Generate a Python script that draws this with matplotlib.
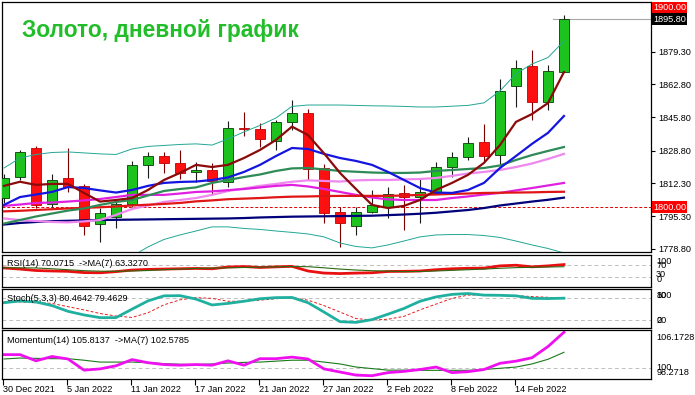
import matplotlib
matplotlib.use("Agg")
import matplotlib.pyplot as plt
import numpy as np

plt.rcParams['font.family'] = ['Liberation Sans', 'DejaVu Sans']

# ---------------- data ----------------
date_labels = ["30 Dec 2021", "5 Jan 2022", "11 Jan 2022", "17 Jan 2022", "21 Jan 2022",
               "27 Jan 2022", "2 Feb 2022", "8 Feb 2022", "14 Feb 2022"]
label_step = 4

open_ = [1804.7, 1815.3, 1830.1, 1801.7, 1814.8, 1810.9, 1791.3, 1795.2, 1801.7, 1821.6,
         1826.1, 1822.4, 1817.8, 1819.0, 1813.0, 1840.4, 1839.7, 1833.8, 1843.3, 1847.9,
         1819.9, 1797.5, 1790.6, 1797.8, 1800.3, 1807.1, 1805.1, 1807.1, 1820.4, 1825.5,
         1833.1, 1826.7, 1862.0, 1872.0, 1853.5, 1869.1]
close = [1814.9, 1828.3, 1801.2, 1813.9, 1810.2, 1790.6, 1796.9, 1801.5, 1821.6, 1826.1,
         1822.4, 1817.6, 1819.0, 1813.6, 1840.3, 1840.0, 1834.7, 1843.3, 1847.9, 1819.4,
         1796.9, 1791.8, 1797.5, 1801.2, 1806.6, 1805.1, 1807.6, 1820.4, 1825.8, 1832.6,
         1826.3, 1859.3, 1871.1, 1853.5, 1869.5, 1895.8]
high = [1817.0, 1829.2, 1831.4, 1817.0, 1830.4, 1811.7, 1799.5, 1802.9, 1823.6, 1828.3,
        1828.3, 1829.2, 1823.2, 1822.7, 1844.1, 1848.4, 1842.8, 1844.5, 1854.7, 1850.1,
        1822.1, 1800.3, 1800.0, 1808.8, 1810.5, 1811.4, 1814.8, 1823.2, 1828.3, 1836.0,
        1842.4, 1865.2, 1875.1, 1880.2, 1872.5, 1898.0]
low = [1802.0, 1813.9, 1799.5, 1800.0, 1807.9, 1785.9, 1782.5, 1789.6, 1800.3, 1815.1,
       1817.3, 1814.4, 1813.0, 1806.3, 1810.2, 1836.3, 1830.9, 1829.2, 1839.4, 1813.9,
       1791.8, 1779.6, 1785.9, 1796.9, 1794.4, 1788.4, 1792.2, 1806.8, 1815.3, 1824.1,
       1822.9, 1821.6, 1851.0, 1844.5, 1849.6, 1868.9]

ma_maroon = [1810.9, 1813.0, 1811.4, 1811.9, 1811.9, 1807.3, 1802.9, 1803.7, 1804.7, 1808.8,
             1813.9, 1817.5, 1821.6, 1820.5, 1821.6, 1825.1, 1829.2, 1834.3, 1841.1, 1836.8,
             1827.5, 1817.5, 1809.3, 1801.2, 1799.6, 1800.7, 1803.7, 1808.8, 1812.4, 1816.5,
             1822.6, 1831.7, 1843.5, 1847.5, 1853.1, 1868.9]
ma_blue = [1801.2, 1805.2, 1806.5, 1807.8, 1810.3, 1809.8, 1808.6, 1807.5, 1808.8, 1810.9,
           1812.4, 1812.9, 1813.1, 1813.9, 1815.2, 1818.0, 1821.6, 1826.1, 1830.2, 1829.7,
           1827.2, 1825.1, 1823.6, 1821.6, 1818.0, 1813.9, 1809.8, 1807.5, 1807.3, 1808.8,
           1812.4, 1820.0, 1826.1, 1832.3, 1837.9, 1846.5]
ma_green = [1791.7, 1793.5, 1795.3, 1796.8, 1798.3, 1799.4, 1801.2, 1802.7, 1803.7, 1806.0,
            1808.3, 1809.3, 1810.1, 1812.4, 1813.9, 1815.4, 1816.7, 1818.5, 1819.8, 1820.0,
            1819.3, 1818.5, 1818.1, 1817.7, 1817.5, 1817.5, 1817.7, 1818.5, 1819.0, 1819.5,
            1820.0, 1821.3, 1824.1, 1826.6, 1828.7, 1830.7]
ma_magenta = [1800.7, 1801.4, 1802.2, 1802.4, 1802.9, 1803.5, 1804.2, 1805.2, 1806.3, 1806.3,
              1806.3, 1807.0, 1807.8, 1808.1, 1808.7, 1809.3, 1810.1, 1810.9, 1811.4, 1810.6,
              1809.3, 1807.8, 1806.3, 1805.0, 1804.0, 1803.7, 1803.7, 1803.7, 1804.7, 1805.5,
              1806.5, 1807.3, 1808.6, 1809.8, 1811.1, 1812.4]
ma_violet = [1794.3, 1793.5, 1793.0, 1792.5, 1792.3, 1792.8, 1793.5, 1796.1, 1799.1, 1800.9,
             1802.7, 1803.7, 1804.7, 1806.3, 1808.3, 1809.6, 1810.9, 1811.9, 1813.0, 1813.7,
             1813.4, 1813.1, 1813.7, 1813.9, 1813.9, 1814.2, 1814.4, 1814.9, 1816.0, 1817.2,
             1818.0, 1819.0, 1820.5, 1822.3, 1824.6, 1827.2]
ma_red = [1797.9, 1798.2, 1798.6, 1799.0, 1799.4, 1799.7, 1800.0, 1800.4, 1800.9, 1801.3,
          1801.7, 1802.2, 1803.0, 1803.5, 1804.1, 1804.4, 1804.7, 1805.1, 1805.4, 1805.5,
          1805.7, 1805.8, 1805.8, 1805.8, 1805.8, 1806.0, 1806.3, 1806.5, 1806.8, 1807.0,
          1807.3, 1807.4, 1807.5, 1807.6, 1807.8, 1807.9]
ma_navy = [1791.2, 1792.0, 1792.5, 1792.9, 1793.1, 1793.3, 1793.5, 1793.6, 1793.7, 1793.8,
           1793.9, 1794.0, 1794.1, 1794.2, 1794.3, 1794.5, 1794.8, 1795.0, 1795.2, 1795.3,
           1795.4, 1795.5, 1795.6, 1795.7, 1796.0, 1796.3, 1796.7, 1797.2, 1797.9, 1798.6,
           1799.6, 1800.9, 1801.9, 1802.9, 1803.8, 1804.9]
bb_upper = [1820.0, 1825.1, 1826.9, 1827.9, 1828.2, 1827.7, 1827.2, 1826.9, 1829.7, 1831.0,
            1831.5, 1832.0, 1832.3, 1831.7, 1834.8, 1838.4, 1841.7, 1845.5, 1851.4, 1852.1,
            1852.1, 1852.1, 1851.9, 1851.7, 1851.6, 1851.4, 1851.1, 1851.1, 1851.5, 1851.9,
            1853.2, 1859.3, 1868.0, 1873.0, 1876.3, 1884.7]
bb_lower = [None] * 8 + [1775.0, 1779.8, 1783.6, 1785.9, 1787.9, 1790.0, 1790.0, 1789.2,
                         1788.7, 1787.9, 1787.2, 1786.4, 1784.9, 1781.8, 1780.0, 1779.3,
                         1780.8, 1782.8, 1784.9, 1785.9, 1786.1, 1786.1, 1785.6, 1784.6,
                         1782.8, 1780.8, 1779.0, 1776.7]

rsi = [59.5, 56, 51.5, 50, 49, 45, 44.5, 48, 53, 55, 56, 57, 58, 57, 62.5, 64, 61, 63, 64.5,
       50, 43.5, 42, 43.5, 44.5, 48.5, 49, 50, 54, 57, 58.5, 59, 66, 68, 63, 66, 70.0715]
rsi_ma = [60, 60, 59.5, 57, 54, 51, 49.5, 49, 50, 51.5, 54, 56, 58, 59, 60, 61, 62, 63, 64,
          63.5, 60, 56, 53, 51, 49.5, 48, 48.5, 50, 52, 54, 56, 58.5, 60.5, 61.5, 62.5, 63.3270]
stoch_k = [68, 72.8, 70, 60, 44, 34, 26.5, 26.5, 50, 73, 87, 87.5, 78, 61.7, 66, 72, 79, 82,
           82.5, 68, 42, 15.3, 13.3, 21, 36, 52, 72, 84, 91, 93.5, 89, 88.5, 87, 80, 79.5, 80.4642]
stoch_d = [71, 70, 68, 66, 57, 48, 38, 31, 27, 40, 62, 76, 82, 80, 72, 72, 75, 79, 82, 75,
           60, 42, 24, 20, 22, 30, 48, 64, 80, 89, 90, 89, 87.5, 85, 83, 79.4629]
momentum = [102.2, 102.2, 101.2, 101.9, 101.5, 99.7, 99.9, 100.4, 101.4, 100.9, 100.6, 100.5,
            100.6, 100.5, 101.2, 100.5, 101.55, 101.55, 101.8, 101.5, 99.9, 99.4, 98.9, 98.8,
            99.3, 99.5, 99.8, 100.2, 99.3, 99.45, 99.8, 100.8, 101.15, 101.7, 103.5, 105.8137]
momentum_ma = [101.5, 101.65, 101.6, 101.55, 101.55, 101.3, 101.0, 101.0, 101.0, 100.9, 100.75,
               100.65, 100.6, 100.7, 100.85, 100.95, 101.0, 101.15, 101.3, 101.3, 101.0, 100.7,
               100.2, 99.95, 99.7, 99.7, 99.67, 99.67, 99.67, 99.67, 99.8, 100.0, 100.2, 100.7,
               101.45, 102.5785]

price_ticks = [1778.80, 1795.30, 1812.30, 1828.80, 1845.80, 1862.80, 1879.30, 1895.80]
last_price = 1895.80
alert_level = 1900.00
support_level = 1800.00
mom_range = (98.2718, 106.1728)

# ---------------- layout ----------------
W, H = 695, 395
fig = plt.figure(figsize=(W / 100, H / 100), dpi=100)
fig.patch.set_facecolor('white')


def axes_px(left, top, right, bottom):
    return fig.add_axes([left / W, 1 - bottom / H, (right - left) / W, (bottom - top) / H])


ax = axes_px(2, 2, 651, 252)
ax_rsi = axes_px(2, 255, 651, 287)
ax_st = axes_px(2, 288.5, 651, 328)
ax_mom = axes_px(2, 330, 651, 379)

n = len(close)
x = np.arange(n)
xlim = (-0.125, 40.44)
for a in (ax, ax_rsi, ax_st, ax_mom):
    a.set_xlim(*xlim)
    for s in a.spines.values():
        s.set_linewidth(0.9)
        s.set_color('black')
    a.tick_params(axis='x', bottom=False, labelbottom=False)
    a.tick_params(axis='y', left=False, labelleft=False)

GREEN = '#1EC21E'
RED = '#FF1010'
FS = 6.6

# ---------------- main panel ----------------
ax.set_ylim(1777.2, 1904.6)
o = np.array(open_); c = np.array(close); h = np.array(high); l = np.array(low)
up = c >= o
ax.vlines(x[up], l[up], h[up], color='#1a1a1a', lw=0.8, zorder=2)
ax.vlines(x[~up], l[~up], h[~up], color='#7a0000', lw=0.8, zorder=2)
ax.bar(x[up], c[up] - o[up], bottom=o[up], width=0.66, color=GREEN,
       edgecolor='#0a3a0a', linewidth=0.6, zorder=3)
ax.bar(x[~up], c[~up] - o[~up], bottom=o[~up], width=0.66, color=RED,
       edgecolor='#c00000', linewidth=0.6, zorder=3)

lower = np.array([np.nan if v is None else v for v in bb_lower], dtype=float)
ax.plot(x, bb_upper, color='#22A696', lw=0.7, zorder=4)
ax.plot(x, lower, color='#22A696', lw=0.7, zorder=4)
ax.plot(x, ma_navy, color='#00007A', lw=1.6, zorder=5)
ax.plot(x, ma_violet, color='#EE88EE', lw=1.6, zorder=5)
ax.plot(x, ma_magenta, color='#E020E0', lw=1.6, zorder=5)
ax.plot(x, ma_red, color='#E01515', lw=1.6, zorder=5)
ax.plot(x, ma_green, color='#2E8B57', lw=1.6, zorder=5)
ax.plot(x, ma_blue, color='#1515E0', lw=1.6, zorder=6)
ax.plot(x, ma_maroon, color='#8B0A0A', lw=1.6, zorder=6)

ax.axhline(support_level, color='#E00000', lw=0.7, ls=(0, (3, 2)), zorder=1)
ax.plot([n - 1 - 0.7, xlim[1]], [last_price, last_price], color='#A8A8A8', lw=0.8, zorder=1)

ax.yaxis.tick_right()
ax.set_yticks(price_ticks)
ax.set_yticklabels(['' if abs(t - last_price) < 1e-6 else f'{t:.2f}' for t in price_ticks])
ax.tick_params(axis='y', right=True, labelright=True, length=3, width=0.8, pad=2,
               labelsize=FS, colors='black')

ytr = ax.get_yaxis_transform()
ax.text(1.003, alert_level + 1.8, f'{alert_level:.2f}', transform=ytr, fontsize=FS,
        color='white', va='center', ha='left', clip_on=False,
        bbox=dict(boxstyle='square,pad=0.15', fc='#FF0000', ec='none'))
ax.text(1.003, last_price, f'{last_price:.2f}', transform=ytr, fontsize=FS,
        color='white', va='center', ha='left', clip_on=False,
        bbox=dict(boxstyle='square,pad=0.15', fc='black', ec='none'))
ax.text(1.003, support_level, f'{support_level:.2f}', transform=ytr, fontsize=FS,
        color='white', va='center', ha='left', clip_on=False,
        bbox=dict(boxstyle='square,pad=0.15', fc='#FF0000', ec='none'))

fig.text(22 / W, 1 - 31 / H, 'Золото, дневной график', color='#22BE2A', fontsize=16.4,
         fontweight='bold', va='center', ha='left')


def level_labels(a, items):
    tr = a.get_yaxis_transform()
    for txt, yv in items:
        a.text(1.008, yv, txt, transform=tr, fontsize=FS, va='center', ha='left',
               clip_on=False)


# ---------------- RSI ----------------
ax_rsi.set_ylim(0, 100)
for lv in (70, 30):
    ax_rsi.axhline(lv, color='#C0C0C0', lw=0.7, ls=(0, (4, 3)))
ax_rsi.plot(x, rsi, color='#E81010', lw=2.0)
ax_rsi.plot(x, rsi_ma, color='#2A6A10', lw=0.8)
ax_rsi.text(0.0077, 0.73, f'RSI(14) {rsi[-1]:.4f}  ->MA(7) {rsi_ma[-1]:.4f}',
            transform=ax_rsi.transAxes, fontsize=FS, va='center', ha='left')
level_labels(ax_rsi, [('100', 81), ('70', 66), ('30', 40), ('0', 22)])

# ---------------- Stochastic ----------------
ax_st.set_ylim(-2.3, 107.4)
for lv in (80, 20):
    ax_st.axhline(lv, color='#C0C0C0', lw=0.7, ls=(0, (4, 3)))
ax_st.plot(x, stoch_d, color='#E02020', lw=0.7, ls=(0, (3, 2)))
ax_st.plot(x, stoch_k, color='#20B0A0', lw=2.0)
ax_st.text(0.0077, 0.74, f'Stoch(5,3,3) {stoch_k[-1]:.4f} {stoch_d[-1]:.4f}',
           transform=ax_st.transAxes, fontsize=FS, va='center', ha='left')
level_labels(ax_st, [('100', 87), ('80', 87), ('20', 19), ('0', 19)])

# ---------------- Momentum ----------------
ax_mom.set_ylim(*mom_range)
ax_mom.axhline(100, color='#C0C0C0', lw=0.7, ls=(0, (4, 3)))
ax_mom.plot(x, momentum_ma, color='#1A7A1A', lw=0.8)
ax_mom.plot(x, momentum, color='#EE10EE', lw=2.0)
ax_mom.text(0.0077, 0.79, f'Momentum(14) {momentum[-1]:.4f}  ->MA(7) {momentum_ma[-1]:.4f}',
            transform=ax_mom.transAxes, fontsize=FS, va='center', ha='left')
level_labels(ax_mom, [(f'{mom_range[1]:.4f}', 105.0), ('100', 100.16),
                      (f'{mom_range[0]:.4f}', 99.29)])

tick_pos = np.arange(0, label_step * len(date_labels), label_step) - 0.06
ax_mom.set_xticks(tick_pos)
ax_mom.set_xticklabels(date_labels, ha='left')
ax_mom.tick_params(axis='x', bottom=True, labelbottom=True, length=4, width=0.8, pad=0.5,
                   labelsize=FS)

fig.savefig('out.png', dpi=100, facecolor='white')
